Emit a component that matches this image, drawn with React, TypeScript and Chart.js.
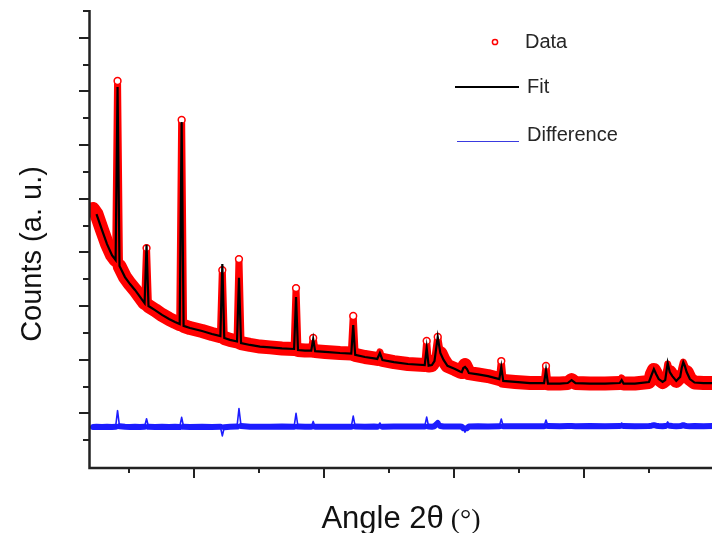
import React, { useEffect, useRef } from "react";
import { Chart, registerables } from "chart.js";

Chart.register(...registerables);

// 2θ positions (degrees)
const angles = [
  12.23, 12.5, 12.92, 13.31, 13.69, 13.97, 14.12, 14.27, 14.69, 15.08,
  15.46, 15.85, 16.2, 16.35, 16.5, 17.0, 17.54, 18.08, 18.54, 18.9,
  19.05, 19.2, 19.69, 20.62, 21.38, 22.03, 22.18, 22.33, 22.77, 23.31,
  23.46, 23.62, 24.31, 25.08, 25.85, 26.77, 27.7, 27.85, 28.0, 28.54,
  29.02, 29.17, 29.32, 30.08, 31.23, 32.1, 32.25, 32.4, 33.15, 33.85,
  34.1, 34.3, 34.5, 35.38, 36.46, 37.75, 37.9, 38.05, 38.3, 38.5,
  38.75, 38.95, 39.2, 39.5, 40.08, 40.46, 40.6, 40.72, 40.85, 41.0,
  41.15, 41.85, 42.62, 43.49, 43.64, 43.79, 44.7, 45.85, 46.93, 47.08,
  47.23, 48.15, 48.75, 49.05, 49.35, 50.46, 51.62, 52.75, 52.9, 53.05,
  53.92, 55.0, 55.2, 55.38, 55.55, 55.75, 56.05, 56.25, 56.44, 56.6,
  56.8, 57.1, 57.4, 57.52, 57.64, 57.76, 57.9, 58.15, 58.5, 59.2, 59.85,
];

// Observed counts (Data)
const observed = [
  9620, 9430, 8840, 8310, 7900, 7720, 14390, 7490, 7080, 6820,
  6600, 6340, 6110, 8160, 6000, 5850, 5670, 5520, 5410, 5330,
  12940, 5260, 5180, 5070, 4960, 4880, 7340, 4810, 4740, 4680,
  7750, 4620, 4550, 4490, 4460, 4420, 4400, 6670, 4360, 4340,
  4340, 4810, 4320, 4290, 4250, 4230, 5630, 4180, 4100, 4050,
  4030, 4290, 3990, 3910, 3840, 3800, 4700, 3780, 3800, 3950,
  4850, 4250, 3990, 3770, 3650, 3560, 3540, 3690, 3800, 3650,
  3500, 3450, 3390, 3280, 3950, 3210, 3170, 3130, 3130, 3770,
  3110, 3110, 3130, 3240, 3130, 3110, 3110, 3130, 3320, 3110,
  3110, 3170, 3430, 3620, 3470, 3280, 3170, 3240, 3840, 3540,
  3390, 3210, 3360, 3690, 3910, 3770, 3540, 3280, 3150, 3130, 3130,
];

// Calculated counts (Fit)
const calculated = [
  null, 9430, 8840, 8310, 7900, 7720, 14170, 7490, 7080, 6820,
  6600, 6340, 6110, 8280, 6000, 5850, 5670, 5520, 5410, 5330,
  12860, 5260, 5180, 5070, 4960, 4880, 7570, 4810, 4740, 4680,
  7050, 4620, 4550, 4490, 4460, 4420, 4400, 6340, 4360, 4340,
  4340, 4770, 4320, 4290, 4250, 4230, 5290, 4180, 4100, 4050,
  4030, 4250, 3990, 3910, 3840, 3800, 4440, 3780, 3800, 3950,
  4850, 4250, 3990, 3770, 3650, 3560, 3540, 3690, 3730, 3650,
  3500, 3450, 3390, 3280, 3730, 3210, 3170, 3130, 3130, 3620,
  3110, 3110, 3130, 3240, 3130, 3110, 3110, 3130, 3240, 3110,
  3110, 3170, 3430, 3650, 3470, 3280, 3170, 3240, 3880, 3540,
  3390, 3210, 3360, 3690, 3910, 3770, 3540, 3280, 3150, 3130, 3130,
];

// Difference curve (offset below the pattern)
const difference = [
  1490, 1500, 1490, 1500, 1490, 1500, 2100, 1520, 1500, 1490,
  1500, 1490, 1500, 1800, 1500, 1490, 1500, 1490, 1500, 1490,
  1850, 1500, 1490, 1500, 1490, 1500, 1160, 1480, 1500, 1510,
  2180, 1530, 1500, 1500, 1500, 1510, 1500, 2000, 1510, 1500,
  1500, 1700, 1500, 1500, 1500, 1500, 1900, 1510, 1500, 1510,
  1500, 1640, 1500, 1510, 1510, 1510, 1860, 1510, 1500, 1520,
  1640, 1530, 1510, 1510, 1510, 1510, 1500, 1450, 1300, 1450,
  1510, 1520, 1510, 1520, 1790, 1520, 1520, 1520, 1520, 1750,
  1530, 1520, 1530, 1530, 1520, 1530, 1520, 1530, 1640, 1530,
  1520, 1530, 1540, 1560, 1540, 1530, 1520, 1530, 1680, 1540,
  1530, 1520, 1530, 1540, 1560, 1540, 1530, 1520, 1530, 1520, 1530,
];

const xMin = 12;
const xMax = 59.85;
const yMin = 0;
const yMax = 17000;
const xMajorTicks = [20, 30, 40, 50];
const xMinorTicks = [15, 25, 35, 45, 55];
const yMajorTicks = [2000, 4000, 6000, 8000, 10000, 12000, 14000, 16000];
const yMinorTicks = [1000, 3000, 5000, 7000, 9000, 11000, 13000, 15000, 17000];

const seriesLabels = ["Data", "Fit", "Difference"];
const yTitle = "Counts (a. u.)";
const xTitleMain = "Angle 2θ";
const xTitleUnit = " (°)";

const SANS = '"Liberation Sans", Arial, sans-serif';
const SERIF = '"Liberation Serif", "Times New Roman", serif';

function steepWidth(narrow: number, localRatio: number, globalRatio: number) {
  return (c: any) => {
    const p0 = c.p0, p1 = c.p1;
    if (!p0 || !p1) return undefined;
    const dx = Math.abs(p1.x - p0.x);
    const dy = Math.abs(p1.y - p0.y);
    if (dy > globalRatio * dx) return narrow;
    if (dx < 4 && dy > localRatio * dx) return narrow;
    return undefined;
  };
}

const decorPlugin = {
  id: "decor",
  afterDraw(chart: any) {
    const ctx = chart.ctx as CanvasRenderingContext2D;
    const xs = chart.scales.x;
    const ys = chart.scales.y;
    const area = chart.chartArea;
    ctx.save();
    // axes lines
    ctx.strokeStyle = "#222";
    ctx.lineWidth = 2.5;
    ctx.lineCap = "butt";
    ctx.beginPath();
    ctx.moveTo(area.left - 0.5, ys.getPixelForValue(yMax) - 1);
    ctx.lineTo(area.left - 0.5, area.bottom + 2.2);
    ctx.moveTo(area.left - 1.7, area.bottom + 1);
    ctx.lineTo(area.right + 2, area.bottom + 1);
    ctx.stroke();
    // ticks
    ctx.lineWidth = 2;
    ctx.beginPath();
    for (const v of yMajorTicks) {
      const y = Math.round(ys.getPixelForValue(v));
      ctx.moveTo(area.left - 11, y);
      ctx.lineTo(area.left - 1, y);
    }
    for (const v of yMinorTicks) {
      const y = Math.round(ys.getPixelForValue(v));
      ctx.moveTo(area.left - 7, y);
      ctx.lineTo(area.left - 1, y);
    }
    for (const v of xMajorTicks) {
      const x = Math.round(xs.getPixelForValue(v));
      ctx.moveTo(x, area.bottom + 1);
      ctx.lineTo(x, area.bottom + 11);
    }
    for (const v of xMinorTicks) {
      const x = Math.round(xs.getPixelForValue(v));
      ctx.moveTo(x, area.bottom + 1);
      ctx.lineTo(x, area.bottom + 6);
    }
    ctx.stroke();

    // y title
    ctx.fillStyle = "#111";
    ctx.save();
    ctx.translate(41, 254);
    ctx.rotate(-Math.PI / 2);
    ctx.font = `29px ${SANS}`;
    ctx.textAlign = "center";
    ctx.textBaseline = "alphabetic";
    ctx.fillText(yTitle, 0, 0);
    ctx.restore();

    // x title
    ctx.textAlign = "left";
    ctx.textBaseline = "alphabetic";
    const f1 = `31px ${SANS}`;
    const f2 = `28px ${SERIF}`;
    ctx.font = f1;
    const w1 = ctx.measureText(xTitleMain).width;
    ctx.font = f2;
    const w2 = ctx.measureText(xTitleUnit).width;
    const cx = (area.left + area.right) / 2;
    const sx = cx - (w1 + w2) / 2;
    ctx.font = f1;
    ctx.fillText(xTitleMain, sx, 528);
    ctx.font = f2;
    ctx.fillText(xTitleUnit, sx + w1, 528);

    // legend
    ctx.font = `20px ${SANS}`;
    ctx.fillStyle = "#262626";
    ctx.strokeStyle = "#ff0000";
    ctx.lineWidth = 1.5;
    ctx.beginPath();
    ctx.arc(495, 42, 2.6, 0, Math.PI * 2);
    ctx.stroke();
    ctx.fillText(seriesLabels[0], 525, 48);

    ctx.strokeStyle = "#000";
    ctx.lineWidth = 2;
    ctx.beginPath();
    ctx.moveTo(455, 87);
    ctx.lineTo(519, 87);
    ctx.stroke();
    ctx.fillText(seriesLabels[1], 527, 93);

    ctx.strokeStyle = "#3a3ae0";
    ctx.lineWidth = 1.2;
    ctx.beginPath();
    ctx.moveTo(457, 141.5);
    ctx.lineTo(519, 141.5);
    ctx.stroke();
    ctx.fillText(seriesLabels[2], 527, 141);
    ctx.restore();
  },
};

export default function App() {
  const ref = useRef<HTMLCanvasElement>(null);
  useEffect(() => {
    const canvas = ref.current!;
    const toPts = (arr: (number | null)[]) =>
      angles.map((a, i) => ({ x: a, y: arr[i] }));
    const chart = new Chart(canvas, {
      type: "scatter",
      data: {
        datasets: [
          {
            label: seriesLabels[0],
            data: toPts(observed) as any,
            showLine: true,
            borderColor: "#ff0000",
            borderWidth: 14,
            borderCapStyle: "round",
            borderJoinStyle: "round",
            segment: { borderWidth: steepWidth(7, 2.2, 4) as any },
            pointRadius: (c: any) => {
              const i = c.dataIndex;
              const v = observed[i];
              const p = observed[i - 1] ?? v;
              const n = observed[i + 1] ?? v;
              return v - p > 400 && v - n > 400 ? 3.4 : 0;
            },
            pointBorderColor: "#ff0000",
            pointBackgroundColor: "#ffffff",
            pointBorderWidth: 1.5,
            order: 3,
          } as any,
          {
            label: seriesLabels[1],
            data: toPts(calculated) as any,
            showLine: true,
            borderColor: "#000000",
            borderWidth: 2.2,
            pointRadius: 0,
            order: 1,
          } as any,
          {
            label: seriesLabels[2],
            data: toPts(difference) as any,
            showLine: true,
            borderColor: "#1c1cff",
            borderWidth: 6,
            borderCapStyle: "round",
            borderJoinStyle: "round",
            segment: { borderWidth: steepWidth(1.6, 1, 1) as any },
            pointRadius: 0,
            order: 2,
          } as any,
        ],
      },
      options: {
        responsive: false,
        animation: false,
        devicePixelRatio: 1,
        layout: { padding: { left: 90, top: 11, right: 0, bottom: 66 } },
        scales: {
          x: { type: "linear", min: xMin, max: xMax, display: false },
          y: { type: "linear", min: yMin, max: yMax, display: false },
        },
        plugins: {
          legend: { display: false },
          tooltip: { enabled: false },
        },
      },
      plugins: [decorPlugin],
    });
    return () => chart.destroy();
  }, []);
  return (
    <div style={{ position: "absolute", left: 0, top: 0, width: 712, height: 533, background: "#fff" }}>
      <canvas ref={ref} width={712} height={533} style={{ display: "block" }} />
    </div>
  );
}
